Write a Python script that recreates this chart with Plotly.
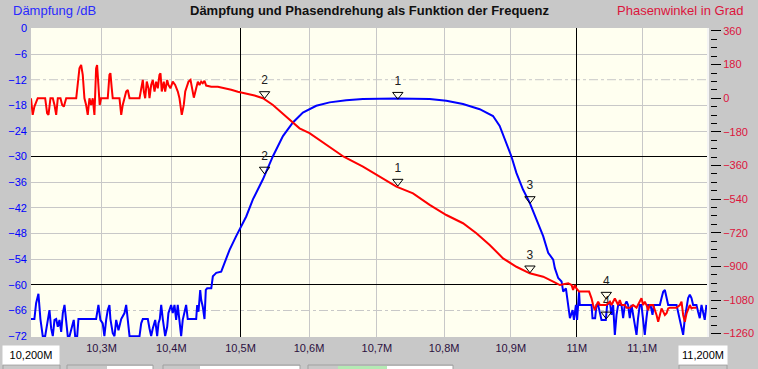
import math
import plotly.graph_objects as go

# ---------------- data (frequency in MHz) ----------------
# Attenuation curve (blue, dB) - left noise floor
blue_left_f = [10.2000, 10.2048, 10.2072, 10.2105, 10.2133, 10.2166, 10.2200, 10.2237, 10.2261, 10.2285,
               10.2308, 10.2332, 10.2356, 10.2379, 10.2403, 10.2427, 10.2450, 10.2474, 10.2498, 10.2520,
               10.2545, 10.2569, 10.2605, 10.2625, 10.2654, 10.2672, 10.2923, 10.2956, 10.2984, 10.3017,
               10.3041, 10.3066, 10.3089, 10.3113, 10.3127, 10.3160, 10.3185, 10.3209, 10.3242, 10.3281,
               10.3328, 10.3352, 10.3375, 10.3400, 10.3543, 10.3567, 10.3590, 10.3662, 10.3686, 10.3710,
               10.3733, 10.3768, 10.3796, 10.3815, 10.3834, 10.3854, 10.3877, 10.3911, 10.3940, 10.3958,
               10.3997, 10.4020, 10.4045, 10.4069, 10.4092, 10.4117, 10.4141, 10.4164, 10.4189, 10.4213,
               10.4236, 10.4358, 10.4372, 10.4391, 10.4416, 10.4430, 10.4453, 10.4478, 10.4497, 10.4517,
               10.4576, 10.4599, 10.4623, 10.4648, 10.4720]
blue_left_db = [-68.0, -68.0, -64.3, -62.1, -68.0, -72.0, -72.0, -68.0, -65.9, -70.2,
                -72.0, -68.2, -68.0, -69.8, -68.2, -71.0, -66.6, -64.7, -68.0, -72.0,
                -72.0, -70.2, -68.2, -72.0, -72.0, -68.0, -68.0, -64.7, -68.2, -69.0,
                -72.0, -68.2, -65.9, -64.7, -68.0, -71.3, -72.0, -68.2, -70.6, -68.0,
                -66.6, -64.7, -68.0, -72.0, -72.0, -69.0, -68.0, -68.0, -70.2, -72.0,
                -70.2, -68.2, -72.0, -69.0, -68.0, -64.7, -68.0, -72.0, -69.8, -66.6,
                -64.7, -66.6, -64.7, -68.2, -64.7, -68.2, -72.0, -68.2, -66.6, -64.7,
                -68.0, -68.0, -64.7, -66.3, -61.2, -63.5, -65.1, -68.0, -61.2, -60.8,
                -60.8, -58.0, -57.6, -57.2, -56.9]
# passband
blue_mid_f = [10.4841, 10.4937, 10.4986, 10.5083, 10.5180, 10.5326, 10.5472, 10.5618, 10.5764, 10.5910,
              10.6106, 10.6302, 10.6546, 10.6791, 10.7288, 10.7784, 10.8033, 10.8282, 10.8533, 10.8733,
              10.8833, 10.8934, 10.9009, 10.9085, 10.9185, 10.9287, 10.9388, 10.9490, 10.9566, 10.9642]
blue_mid_db = [-51.8, -48.6, -47.1, -44.0, -40.0, -35.3, -29.9, -25.2, -22.0, -19.7,
               -18.1, -17.3, -16.8, -16.5, -16.4, -16.5, -16.9, -17.7, -18.9, -20.5,
               -22.8, -26.7, -29.9, -33.8, -37.7, -40.8, -44.7, -48.6, -52.5, -54.1]
# right noise floor
blue_right_f = [10.9667, 10.9718, 10.9769, 10.9794, 10.9835, 10.9870, 10.9896, 10.9937, 10.9957, 10.9987,
                11.0005, 11.0035, 11.0046, 11.0225, 11.0240, 11.0280, 11.0301, 11.0326, 11.0352, 11.0377,
                11.0443, 11.0463, 11.0505, 11.0530, 11.0555, 11.0581, 11.0607, 11.0632, 11.0683, 11.0708,
                11.0734, 11.0760, 11.0784, 11.0810, 11.0836, 11.0860, 11.0887, 11.0913, 11.0937, 11.0963,
                11.0989, 11.1014, 11.1040, 11.1066, 11.1091, 11.1128, 11.1159, 11.1179, 11.1272, 11.1298,
                11.1323, 11.1349, 11.1375, 11.1400, 11.1529, 11.1554, 11.1580, 11.1606, 11.1631, 11.1657,
                11.1684, 11.1708, 11.1734, 11.1760, 11.1785, 11.1837, 11.1862, 11.1888, 11.1915, 11.1939,
                11.1965, 11.1991]
blue_right_db = [-56.1, -58.4, -59.2, -61.6, -60.8, -64.7, -67.8, -65.9, -68.2, -64.7,
                 -68.2, -61.6, -64.7, -64.7, -67.8, -67.8, -64.7, -64.7, -67.0, -68.2,
                 -68.2, -64.7, -63.9, -67.0, -64.7, -71.7, -67.0, -64.7, -64.7, -67.8,
                 -64.7, -63.9, -64.7, -67.8, -64.7, -67.0, -68.6, -71.7, -67.8, -64.7,
                 -64.7, -68.6, -71.7, -67.8, -64.7, -64.7, -67.0, -64.7, -64.7, -63.1,
                 -61.6, -61.2, -63.1, -64.7, -64.7, -66.3, -67.8, -70.2, -71.7, -67.8,
                 -65.5, -63.1, -62.3, -63.1, -64.7, -64.7, -66.3, -67.8, -64.7, -66.3,
                 -68.2, -64.7]

# Phase curve (red, degrees) - left noisy part
red_left_f = [10.2000, 10.2024, 10.2048, 10.2095, 10.2200, 10.2228, 10.2247, 10.2275, 10.2308, 10.2332,
              10.2356, 10.2379, 10.2417, 10.2441, 10.2464, 10.2498, 10.2640, 10.2662, 10.2686, 10.2710,
              10.2733, 10.2757, 10.2781, 10.2804, 10.2828, 10.2852, 10.2875, 10.2899, 10.2923, 10.2937,
              10.2956, 10.2974, 10.2994, 10.3089, 10.3113, 10.3127, 10.3146, 10.3160, 10.3256, 10.3281,
              10.3303, 10.3328, 10.3352, 10.3375, 10.3400, 10.3543, 10.3567, 10.3590, 10.3605, 10.3624,
              10.3647, 10.3672, 10.3686, 10.3710, 10.3733, 10.3758, 10.3782, 10.3805, 10.3829, 10.3844,
              10.3862, 10.3891, 10.3911, 10.3940, 10.3958, 10.3987, 10.4020, 10.4055, 10.4093, 10.4117,
              10.4150, 10.4179, 10.4200, 10.4229, 10.4247, 10.4276, 10.4295, 10.4324, 10.4358, 10.4382,
              10.4406, 10.4430, 10.4453, 10.4478, 10.4502, 10.4576, 10.4671, 10.4768, 10.4865, 10.4961,
              10.5058, 10.5156, 10.5204]
red_left_deg = [0, -89, -45, 0, 0, -81, -89, 0, 0, -36,
                -89, 0, 0, -36, -45, 0, 0, 98, 160, 178,
                125, 0, -36, -89, 0, -36, 0, -89, 160, 178,
                53, -36, 0, 0, 125, 134, 53, 0, 0, -89,
                -36, 0, 36, 44, 0, 0, 53, 98, 36, 0,
                89, 53, 0, 71, 98, 36, 89, 53, 125, 134,
                36, 89, 36, 98, 71, 53, 89, 71, 36, 0,
                -89, -36, 36, 71, 89, 98, 53, 3, 53, 89,
                71, 89, 80, 93, 68, 62, 62, 55, 45, 35,
                28, 20, 15]
# descending part
red_mid_f = [10.5326, 10.5472, 10.5667, 10.5861, 10.6007, 10.6302, 10.6510, 10.6794, 10.7040, 10.7289,
             10.7536, 10.7784, 10.8033, 10.8282, 10.8483, 10.8683, 10.8884, 10.9085, 10.9287, 10.9490,
             10.9642, 10.9744]
red_mid_deg = [0, -36, -99, -161, -187, -262, -313, -366, -420, -473,
               -509, -571, -625, -669, -723, -786, -857, -902, -937, -955,
               -982, -1000]
# right noisy part
red_right_f = [10.9870, 10.9921, 10.9944, 10.9970, 10.9995, 11.0035, 11.0188, 11.0225, 11.0249, 11.0275,
               11.0301, 11.0326, 11.0352, 11.0454, 11.0505, 11.0530, 11.0555, 11.0581, 11.0607, 11.0632,
               11.0657, 11.0683, 11.0734, 11.0760, 11.0810, 11.0860, 11.0913, 11.0963, 11.0989, 11.1014,
               11.1040, 11.1066, 11.1091, 11.1117, 11.1168, 11.1221, 11.1246, 11.1272, 11.1298, 11.1323,
               11.1349, 11.1375, 11.1400, 11.1426, 11.1529, 11.1580, 11.1606, 11.1631, 11.1657, 11.1684,
               11.1708, 11.1734, 11.1760, 11.1785, 11.1837]
red_right_deg = [-991, -1000, -1026, -1000, -1018, -1035, -1035, -1071, -1107, -1134,
                 -1107, -1089, -1107, -1107, -1089, -1107, -1089, -1071, -1089, -1107,
                 -1080, -1107, -1107, -1121, -1121, -1107, -1121, -1089, -1071, -1107,
                 -1089, -1107, -1134, -1107, -1107, -1160, -1196, -1160, -1125, -1142,
                 -1160, -1151, -1125, -1121, -1121, -1107, -1089, -1160, -1196, -1151,
                 -1125, -1107, -1125, -1121, -1121]

# Markers
mk_labels = ["1", "2", "3", "4"]
mk_freq = [10.731, 10.535, 10.929, 11.045]
mk_db = [-15.5, -33.0, -39.9, -66.9]
mk_deg = [-446, 23, -910, -1051]

# Axis ticks / grid levels
x_ticks = [10.3, 10.4, 10.5, 10.6, 10.7, 10.8, 10.9, 11.0, 11.1]
x_ticktext = ["10,3M", "10,4M", "10,5M", "10,6M", "10,7M", "10,8M", "10,9M", "11M", "11,1M"]
x_major = [10.5, 11.0]
db_grid_solid = [-6, -18, -24, -36, -42, -48, -54]
db_grid_dash = [-12, -66]
db_grid_black = [0, -30, -60]
f_start_label = "10,200M"
f_stop_label = "11,200M"

# ---------------- figure ----------------
W, H = 758, 369
L, R, T, B = 31, 48, 28, 32
PW = W - L - R
XDOM = 676 / PW
FONT = "Liberation Sans, Arial, sans-serif"
BLUE = "#0000ff"
RED = "#ff0000"
CRIMSON = "#dc143c"
GRID = "#c8c8c8"
XR = [math.log10(10.2), math.log10(11.2)]
YR = [-72.2, 0.1]

fig = go.Figure()
blue_f = blue_left_f + blue_mid_f + blue_right_f
blue_db = blue_left_db + blue_mid_db + blue_right_db
red_f = red_left_f + red_mid_f + red_right_f
red_deg = red_left_deg + red_mid_deg + red_right_deg

# empty trace that creates the overlay subplot carrying the black reference grid
fig.add_trace(go.Scatter(x=[], y=[], xaxis="x2", yaxis="y3", hoverinfo="skip"))
fig.add_trace(go.Scatter(x=blue_f, y=blue_db, mode="lines", yaxis="y",
                         line=dict(color=BLUE, width=2), hoverinfo="skip"))
fig.add_trace(go.Scatter(x=red_f, y=red_deg, mode="lines", yaxis="y2",
                         line=dict(color=RED, width=2), hoverinfo="skip"))
fig.add_trace(go.Scatter(x=mk_freq, y=mk_db, mode="markers+text", yaxis="y",
                         text=mk_labels, textposition="top center",
                         textfont=dict(family=FONT, size=12, color="#202020"),
                         marker=dict(symbol="triangle-down-open", size=9,
                                     color="black", line=dict(width=1, color="black")),
                         hoverinfo="skip"))
fig.add_trace(go.Scatter(x=mk_freq, y=mk_deg, mode="markers+text", yaxis="y2",
                         text=mk_labels, textposition="top center",
                         textfont=dict(family=FONT, size=12, color="#202020"),
                         marker=dict(symbol="triangle-down-open", size=9,
                                     color="black", line=dict(width=1, color="black")),
                         hoverinfo="skip"))

shapes = []
for v in db_grid_dash:
    shapes.append(dict(type="line", xref="paper", yref="y", x0=0, x1=XDOM, y0=v, y1=v,
                       line=dict(color=GRID, width=1, dash="dashdot"), layer="between"))
# white edge at right of plot
shapes.append(dict(type="line", xref="paper", yref="paper", x0=(708 - L) / PW, x1=(708 - L) / PW,
                   y0=0, y1=1, line=dict(color="#f4f4f4", width=2), layer="above"))

# partial controls along the bottom edge
def px_x(p):
    return (p - L) / PW

def px_y(p):
    return (H - B - p) / (H - T - B)

for (a, b_, col) in [(107, 153, "white"), (200, 300, "white"), (387, 453, "white"), (338, 387, "#b4eab4")]:
    shapes.append(dict(type="rect", xref="paper", yref="paper", x0=px_x(a), x1=px_x(b_),
                       y0=px_y(366), y1=px_y(380), fillcolor=col, line=dict(width=0), layer="above"))
for (a, b_) in [(3, 60), (67, 153), (163, 300), (308, 453), (679, 727)]:
    shapes.append(dict(type="rect", xref="paper", yref="paper", x0=px_x(a), x1=px_x(b_),
                       y0=px_y(365), y1=px_y(380), fillcolor="rgba(0,0,0,0)",
                       line=dict(width=1, color="#a0a0a0"), layer="above"))

annotations = [
    dict(text="<b>Dämpfung und Phasendrehung als Funktion der Frequenz</b>", xref="paper", yref="paper",
         x=px_x(369.5), y=px_y(10), xanchor="center", yanchor="middle", showarrow=False,
         font=dict(family=FONT, size=13, color="#101010")),
    dict(text="Dämpfung /dB", xref="paper", yref="paper", x=px_x(11), y=px_y(10),
         xanchor="left", yanchor="middle", showarrow=False,
         font=dict(family=FONT, size=13, color="#2a2aff")),
    dict(text="Phasenwinkel in Grad", xref="paper", yref="paper", x=px_x(745), y=px_y(10),
         xanchor="right", yanchor="middle", showarrow=False,
         font=dict(family=FONT, size=13, color=CRIMSON)),
    dict(text=f_start_label, xref="paper", yref="paper", x=px_x(31), y=px_y(354.5),
         xanchor="center", yanchor="middle", showarrow=False, bgcolor="white",
         width=54, height=16, font=dict(family=FONT, size=11, color="black")),
    dict(text=f_stop_label, xref="paper", yref="paper", x=px_x(703), y=px_y(354.5),
         xanchor="center", yanchor="middle", showarrow=False, bgcolor="white",
         width=46, height=16, font=dict(family=FONT, size=11, color="black")),
]

fig.update_layout(
    width=W, height=H,
    margin=dict(l=L, r=R, t=T, b=B, pad=0, autoexpand=False),
    paper_bgcolor="#c8c8c8",
    plot_bgcolor="#fffff0",
    showlegend=False,
    shapes=shapes,
    annotations=annotations,
    xaxis=dict(type="log", range=XR, domain=[0, XDOM],
               tickvals=x_ticks, ticktext=x_ticktext, showgrid=True, gridcolor=GRID, gridwidth=1,
               zeroline=False, showline=False, ticks="", ticklabelstandoff=3, automargin=False,
               tickfont=dict(family=FONT, size=11, color="#2c1040"), fixedrange=True),
    xaxis2=dict(type="log", range=XR, domain=[0, XDOM], overlaying="x", anchor="y3",
                tickvals=x_major, showgrid=True, gridcolor="black", gridwidth=1,
                showticklabels=False, ticks="", zeroline=False, showline=False,
                automargin=False, fixedrange=True),
    yaxis=dict(range=YR, tick0=0, dtick=6, showgrid=False, zeroline=False,
               showline=False, ticks="", ticklabelstandoff=3, automargin=False,
               minor=dict(tickvals=db_grid_solid, showgrid=True, gridcolor=GRID, gridwidth=1, ticks=""),
               tickfont=dict(family=FONT, size=11, color=BLUE), fixedrange=True),
    yaxis3=dict(range=YR, overlaying="y", anchor="x2", side="left",
                tickvals=db_grid_black, showgrid=True, gridcolor="black", gridwidth=1,
                showticklabels=False, ticks="", zeroline=False, showline=False,
                automargin=False, fixedrange=True),
    yaxis2=dict(range=[-1278, 376], overlaying="y", side="right", anchor="free", position=1,
                tick0=0, dtick=180, ticks="outside", ticklen=10, tickwidth=1, tickcolor="black",
                minor=dict(dtick=45, ticks="outside", ticklen=6, tickwidth=1, tickcolor="black"),
                showgrid=False, zeroline=False, showline=False, automargin=False,
                tickfont=dict(family=FONT, size=11, color=CRIMSON), fixedrange=True),
)

fig.write_html("out.html", config={"displayModeBar": False},
               post_script="document.body.style.margin='0';document.body.style.padding='0';"
                           "document.body.style.overflow='hidden';")
